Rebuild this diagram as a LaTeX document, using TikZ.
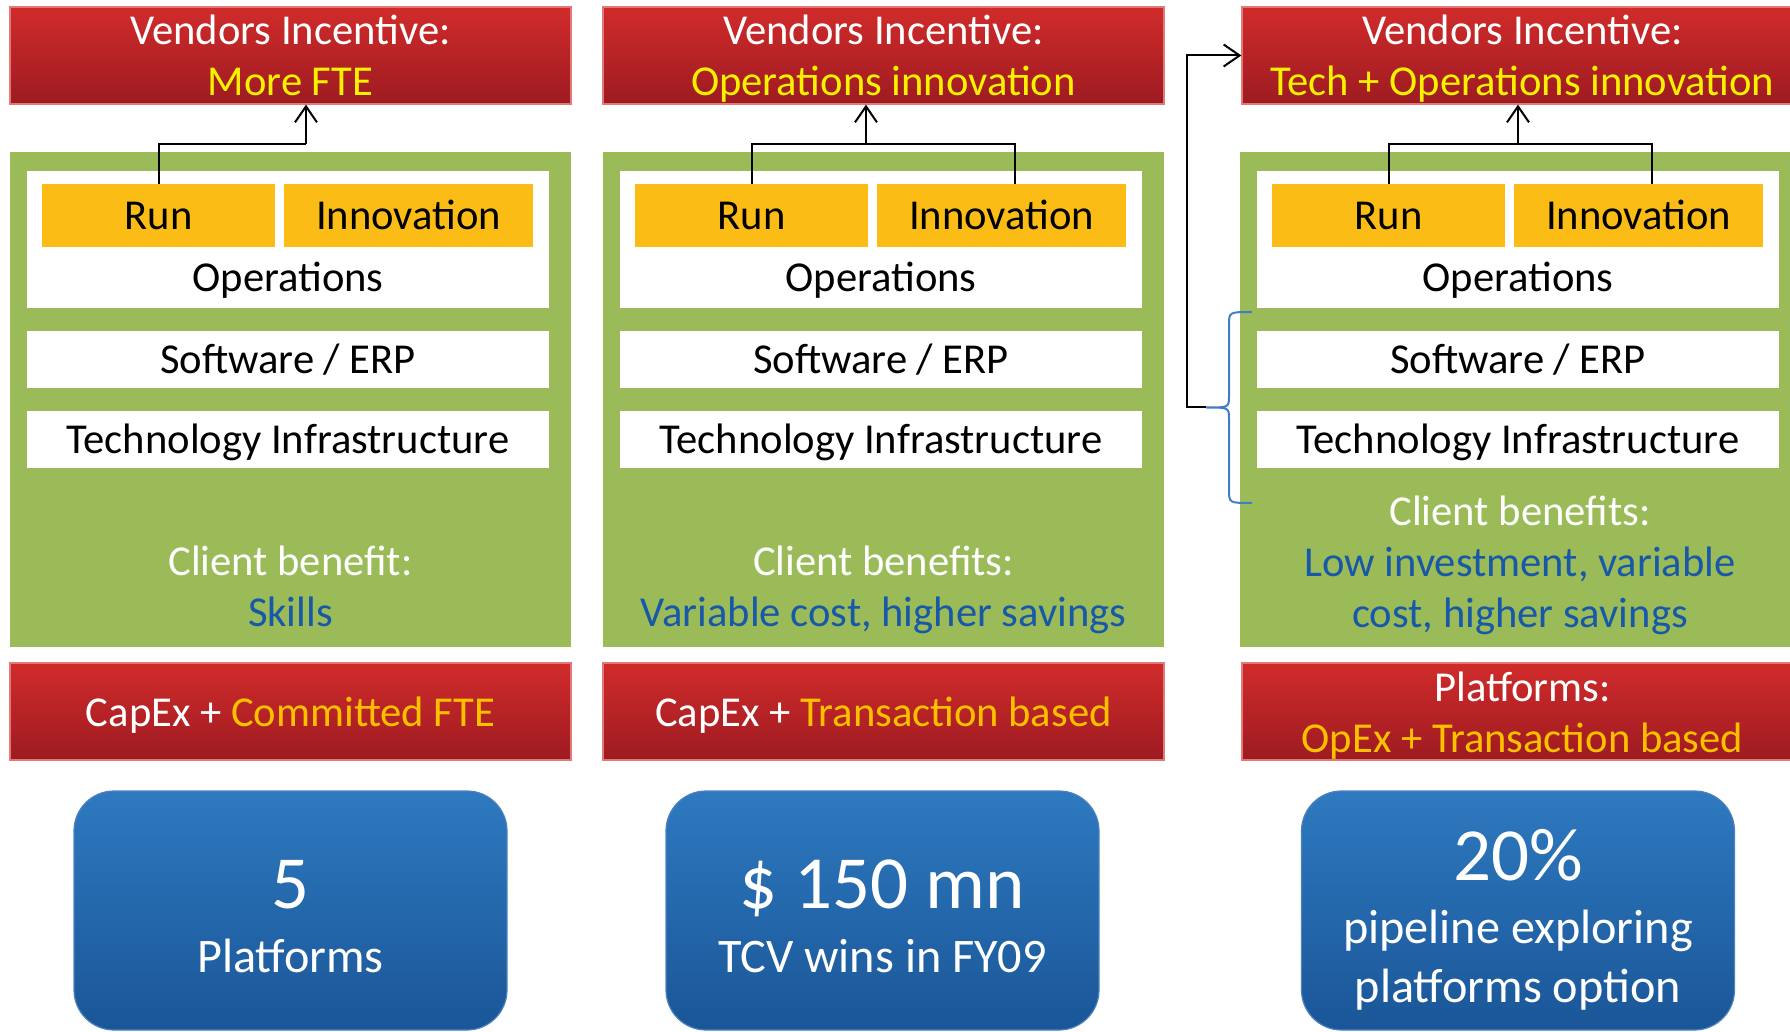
\documentclass[tikz,border=0pt]{standalone}
\usepackage{fontspec}
\setmainfont{Carlito}
\usetikzlibrary{arrows.meta}

\definecolor{incred}{RGB}{209,43,43}
\definecolor{increddark}{RGB}{157,27,33}
\definecolor{incedge}{RGB}{226,120,120}
\definecolor{stackgreen}{RGB}{155,187,89}
\definecolor{phaseyellow}{RGB}{251,188,21}
\definecolor{hiyellow}{RGB}{248,242,0}
\definecolor{hiorange}{RGB}{255,192,0}
\definecolor{benefitblue}{RGB}{24,88,168}
\definecolor{statblue}{RGB}{46,121,191}
\definecolor{statbluedark}{RGB}{26,86,152}
\definecolor{statedge}{RGB}{79,129,189}
\definecolor{bracecol}{RGB}{66,124,198}

% same height and depth on every text line
\newcommand{\linestrut}{\rule[-4pt]{0pt}{23pt}}

\begin{document}
\begin{tikzpicture}[x=0.5pt,y=-0.5pt,font=\fontsize{21.3}{25.5}\selectfont]
    \tikzstyle{incentive}=[rectangle,draw=incedge,line width=0.6pt,top color=incred,bottom color=increddark,text=white,align=center,minimum width=280.5pt,minimum height=48.5pt,inner sep=0pt]
    \tikzstyle{stack}=[rectangle,fill=stackgreen,minimum width=280.5pt,minimum height=247.5pt,inner sep=0pt]
    \tikzstyle{opsbox}=[rectangle,fill=white,minimum width=261pt,minimum height=68.5pt,inner sep=0pt]
    \tikzstyle{layer}=[rectangle,fill=white,minimum width=261pt,minimum height=28.5pt,inner sep=0pt,text height=17pt,text depth=3.3pt]
    \tikzstyle{phase}=[rectangle,fill=phaseyellow,minimum height=31.5pt,inner sep=0pt,text height=17pt,text depth=3.3pt]
    \tikzstyle{plain}=[inner sep=0pt,text height=17pt,text depth=3.3pt]
    \tikzstyle{benefit}=[inner sep=0pt,align=center,text=white]
    \tikzstyle{statbox}=[rectangle,rounded corners=20pt,draw=statedge,line width=0.6pt,top color=statblue,bottom color=statbluedark,minimum width=216.5pt,minimum height=119.5pt]
    \tikzstyle{statnum}=[anchor=base,inner sep=0pt,text=white,font=\fontsize{37.5}{44}\selectfont]
    \tikzstyle{stattext}=[anchor=base,inner sep=0pt,text=white,font=\fontsize{24.1}{29}\selectfont]
    \tikzstyle{conn}=[black,line width=1pt]
    \tikzstyle{tip}=[-{Straight Barb[length=8pt,width=11pt]}]

    \useasboundingbox (0,0) rectangle (1790,1032);
    \clip (0,0) rectangle (1790,1032);

    % the three stacks
    \foreach \col/\dx in {1/0, 2/593, 3/1230} {
        \node[stack] (stack-\col) at (290.5+\dx,399.5) {};
        \node[opsbox] (ops-\col) at (288+\dx,239.5) {};
        \node[phase,minimum width=116.5pt] (run-\col) at (158.5+\dx,215.5) {Run};
        \node[phase,minimum width=124.5pt] (innov-\col) at (408.5+\dx,215.5) {Innovation};
        \node[plain] (opsname-\col) at (288+\dx,277.4) {Operations};
        \node[layer] (erp-\col) at (288+\dx,359.5) {Software / ERP};
        \node[layer] (infra-\col) at (288+\dx,439.5) {Technology Infrastructure};
    }

    % vendor incentives
    \node[incentive] (top-1) at (290.5,55.5) {\linestrut Vendors Incentive:\\\linestrut\textcolor{hiyellow}{More FTE}};
    \node[incentive] (top-2) at (883.5,55.5) {\linestrut Vendors Incentive:\\\linestrut\textcolor{hiyellow}{Operations innovation}};
    \node[incentive] (top-3) at (1522.5,55.5) {\linestrut Vendors Incentive:\\\linestrut\textcolor{hiyellow}{Tech + Operations innovation}};

    % client benefits
    \node[benefit] (benefit-1) at (290.5,586) {\linestrut Client benefit:\\\linestrut\textcolor{benefitblue}{Skills}};
    \node[benefit] (benefit-2) at (883.5,586) {\linestrut Client benefits:\\\linestrut\textcolor{benefitblue}{Variable cost, higher savings}};
    \node[benefit] (benefit-3) at (1520,561.5) {\linestrut Client benefits:\\\linestrut\textcolor{benefitblue}{Low investment, variable}\\\linestrut\textcolor{benefitblue}{cost, higher savings}};

    % pricing models
    \node[incentive] (model-1) at (290.5,711.5) {\linestrut CapEx + \textcolor{hiorange}{Committed FTE}};
    \node[incentive] (model-2) at (883.5,711.5) {\linestrut CapEx + \textcolor{hiorange}{Transaction based}};
    \node[incentive] (model-3) at (1522.5,711.5) {\linestrut Platforms:\\\linestrut\textcolor{hiorange}{OpEx + Transaction based}};

    % figures
    \node[statbox] (stat-1) at (290.5,910.5) {};
    \node[statnum] (stat-1-num) at (290.5,908) {5};
    \node[stattext] (stat-1-txt) at (290.5,972) {Platforms};
    \node[statbox] (stat-2) at (882.5,910.5) {};
    \node[statnum] (stat-2-num) at (882.5,908) {\$ 150 mn};
    \node[stattext] (stat-2-txt) at (882.5,972) {TCV wins in FY09};
    \node[statbox] (stat-3) at (1518,910.5) {};
    \node[statnum] (stat-3-num) at (1518,880) {20\%};
    \node[stattext] (stat-3-a) at (1518,943) {pipeline exploring};
    \node[stattext] (stat-3-b) at (1518,1002) {platforms option};

    % arrows up to the incentives
    \coordinate (join-1) at (306,144);
    \coordinate (join-2) at (866,144);
    \coordinate (join-3) at (1518,144);
    \draw[conn] (run-1.north) |- (join-1);
    \draw[conn,tip] (join-1) -- (join-1 |- top-1.south);
    \foreach \col in {2,3} {
        \coordinate (innovtop-\col) at ([xshift=6.5pt]innov-\col.north);
        \draw[conn] (run-\col.north) |- (innovtop-\col |- join-\col) -- (innovtop-\col);
        \draw[conn,tip] (join-\col) -- (join-\col |- top-\col.south);
    }

    % brace on the lower layers
    \coordinate (brace-top) at (1252,312);
    \coordinate (brace-bot) at (1252,503);
    \coordinate (brace-tip) at (1206,407.5);
    \draw[bracecol,line width=1pt] (brace-top) .. controls (1229,312) .. (1229,325) -- (1229,396)
        .. controls (1229,407.5) .. (brace-tip) .. controls (1229,407.5) .. (1229,419) -- (1229,490)
        .. controls (1229,503) .. (brace-bot);
    \draw[conn,tip] (brace-tip) -- ++(-19,0) |- (top-3.west);
\end{tikzpicture}
\end{document}
